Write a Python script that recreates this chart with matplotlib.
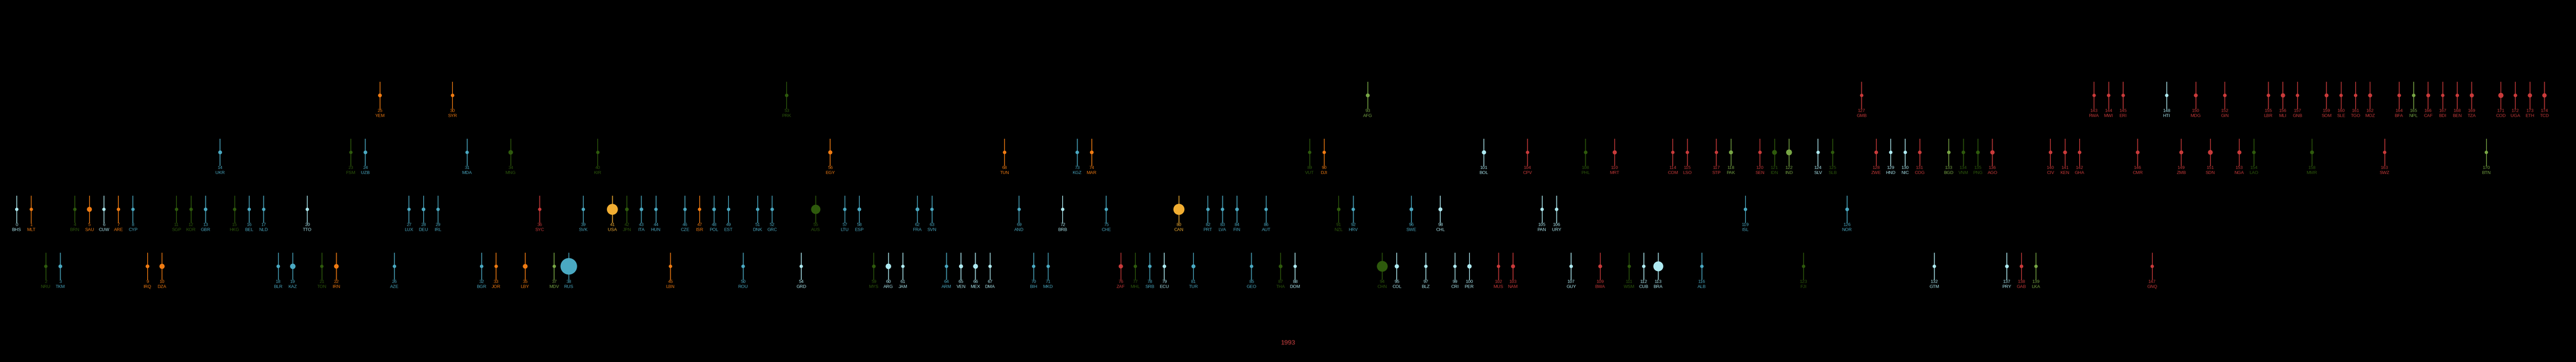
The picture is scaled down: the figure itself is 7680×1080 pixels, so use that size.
import matplotlib
matplotlib.use("Agg")
import matplotlib.pyplot as plt
import numpy as np

# ---- data (ordered by rank) ----
codes = [
    "BHS","MLT","NRU","TKM","BRN","SAU","CUW","ARE","CYP","IRQ",
    "DZA","SGP","KOR","GBR","UKR","HKG","BEL","NLD","BLR","KAZ",
    "TTO","TON","IRN","FSM","UZB","YEM","AZE","LUX","DEU","IRL",
    "SYR","MDA","BGR","JOR","MNG","LBY","SYC","MDV","RUS","SVK",
    "KIR","USA","JPN","ITA","HUN","LBN","CZE","ISR","POL","EST",
    "ROU","DNK","GRC","PRK","GRD","AUS","EGY","LTU","ESP","MYS",
    "ARG","JAM","FRA","SVN","ARM","VEN","MEX","DMA","TUN","AND",
    "BIH","MKD","BRB","KGZ","MAR","CHE","ZAF","MHL","SRB","ECU",
    "CAN","TUR","PRT","LVA","FIN","GEO","AUT","THA","DOM","VUT",
    "DJI","NZL","HRV","AFG","CHN","COL","SWE","BLZ","CHL","CRI",
    "PER","BOL","MUS","NAM","CPV","PAN","URY","GUY","PHL","BWA",
    "MRT","WSM","CUB","BRA","COM","LSO","ALB","STP","PAK","ISL",
    "SEN","IDN","IND","FJI","SLV","SLB","NOR","GMB","ZWE","HND",
    "NIC","COG","GTM","BGD","VNM","PNG","AGO","PRY","GAB","LKA",
    "CIV","KEN","GHA","RWA","MWI","ERI","CMR","GNQ","HTI","ZMB",
    "MDG","SDN","GIN","NGA","LAO","LBR","MLI","GNB","MMR","SOM",
    "SLE","TGO","MOZ","SWZ","BFA","NPL","CAF","BDI","BEN","TZA",
    "BTN","COD","UGA","ETH","TCD",
]

regions = [
    "LAC","MENA","EAP","ECA","EAP","MENA","LAC","MENA","ECA","MENA",
    "MENA","EAP","EAP","ECA","ECA","EAP","ECA","ECA","ECA","ECA",
    "LAC","EAP","MENA","EAP","ECA","MENA","ECA","ECA","ECA","ECA",
    "MENA","ECA","ECA","MENA","EAP","MENA","SSA","SAS","ECA","ECA",
    "EAP","NAC","EAP","ECA","ECA","MENA","ECA","MENA","ECA","ECA",
    "ECA","ECA","ECA","EAP","LAC","EAP","MENA","ECA","ECA","EAP",
    "LAC","LAC","ECA","ECA","ECA","LAC","LAC","LAC","MENA","ECA",
    "ECA","ECA","LAC","ECA","MENA","ECA","SSA","EAP","ECA","LAC",
    "NAC","ECA","ECA","ECA","ECA","ECA","ECA","EAP","LAC","EAP",
    "MENA","EAP","ECA","SAS","EAP","LAC","ECA","LAC","LAC","LAC",
    "LAC","LAC","SSA","SSA","SSA","LAC","LAC","LAC","EAP","SSA",
    "SSA","EAP","LAC","LAC","SSA","SSA","ECA","SSA","SAS","ECA",
    "SSA","EAP","SAS","EAP","LAC","EAP","ECA","SSA","SSA","LAC",
    "LAC","SSA","LAC","SAS","EAP","EAP","SSA","LAC","SSA","SAS",
    "SSA","SSA","SSA","SSA","SSA","SSA","SSA","SSA","LAC","SSA",
    "SSA","SSA","SSA","SSA","EAP","SSA","SSA","SSA","EAP","SSA",
    "SSA","SSA","SSA","SSA","SSA","SAS","SSA","SSA","SSA","SSA",
    "SAS","SSA","SSA","SSA","SSA",
]

income = [
    "H","H","UM","UM","H","H","H","H","H","UM",
    "UM","H","H","H","LM","H","H","H","UM","UM",
    "H","UM","UM","LM","LM","L","UM","H","H","H",
    "L","LM","UM","UM","LM","UM","H","UM","UM","H",
    "LM","H","H","H","H","UM","H","H","H","H",
    "UM","H","H","L","UM","H","LM","H","H","UM",
    "UM","UM","H","H","UM","UM","UM","UM","LM","H",
    "UM","UM","H","LM","LM","H","UM","UM","UM","UM",
    "H","UM","H","H","H","UM","H","UM","UM","LM",
    "LM","H","H","L","UM","UM","H","UM","H","UM",
    "UM","LM","UM","UM","LM","H","H","UM","LM","UM",
    "LM","UM","UM","UM","LM","LM","UM","LM","LM","H",
    "LM","LM","LM","UM","LM","LM","H","L","LM","LM",
    "LM","LM","UM","LM","LM","LM","LM","UM","UM","UM",
    "LM","LM","LM","L","L","L","LM","UM","L","LM",
    "L","LM","L","LM","LM","L","L","L","LM","L",
    "L","L","L","LM","L","L","L","L","L","L",
    "LM","L","L","L","L",
]

# land area, thousand km^2 (drives marker size)
area = [
    13.9, 0.3, 0.02, 488, 5.8, 2150, 0.44, 83.6, 9.3, 438,
    2382, 0.7, 100, 242, 604, 1.1, 30.5, 41.5, 208, 2725,
    5.1, 0.75, 1648, 0.7, 447, 528, 86.6, 2.6, 357, 70,
    185, 33.8, 111, 89, 1564, 1760, 0.46, 0.3, 17098, 49,
    0.8, 9834, 378, 301, 93, 10.4, 79, 22, 313, 45,
    238, 43, 132, 121, 0.34, 7692, 1002, 65, 506, 330,
    2780, 11, 552, 20, 29.7, 916, 1964, 0.75, 164, 0.47,
    51, 25.7, 0.43, 200, 447, 41, 1221, 0.18, 88, 256,
    9985, 784, 92, 64.6, 338, 69.7, 84, 513, 48.7, 12.2,
    23.2, 268, 56.6, 652, 9597, 1142, 450, 23, 756, 51,
    1285, 1099, 2, 824, 4, 75, 176, 215, 300, 582,
    1031, 2.8, 110, 8516, 1.9, 30, 28.7, 1, 881, 103,
    197, 1905, 3287, 18.3, 21, 28.9, 385, 11.3, 391, 112,
    130, 342, 109, 148, 331, 463, 1247, 407, 268, 65.6,
    322, 580, 239, 26, 118, 118, 475, 28, 27.8, 753,
    587, 1886, 246, 924, 237, 111, 1240, 36, 677, 638,
    72, 57, 801, 17, 274, 147, 623, 27.8, 115, 947,
    38, 2345, 241, 1104, 1284,
]

year_label = "1993"

# ---- styles ----
region_colors = {
    "ECA": "#4aa9c2",
    "LAC": "#aeeaf2",
    "MENA": "#f07b12",
    "EAP": "#2e5a0c",
    "SAS": "#78a645",
    "SSA": "#c93a3a",
    "NAC": "#f2ae32",
}
row_of_income = {"L": 0, "LM": 1, "H": 2, "UM": 3}

W, H, DPI = 7680, 1080, 100
fig = plt.figure(figsize=(W / DPI, H / DPI), dpi=DPI, facecolor="black")
ax = fig.add_axes([0, 0, 1, 1])
ax.set_facecolor("black")
ax.axis("off")

# scales: rank -> x, income row -> y (rows are 170 px apart)
px_per_rank = 43.31
x0_px = 50.0
ax.set_xlim(-x0_px / px_per_rank, (W - x0_px) / px_per_rank)
row_px = 170.0
y0_px = 284.6
ax.set_ylim((H - y0_px) / row_px, -y0_px / row_px)

plt.rcParams["font.family"] = ["Liberation Sans Narrow", "Liberation Sans", "DejaVu Sans"]

ranks = np.arange(len(codes))
rows = np.array([row_of_income[i] for i in income], dtype=float)
cols = [region_colors[r] for r in regions]
diam_px = 10 + 2.3 * np.array(area) / 1000.0
sizes = (diam_px * 72.0 / DPI) ** 2

ax.vlines(ranks, rows - 41 / row_px, rows + 40 / row_px, colors=cols,
          linewidth=1.5, zorder=1)
ax.scatter(ranks, rows, s=sizes, c=cols, edgecolors="none", zorder=2)

for r, row, code, c in zip(ranks, rows, codes, cols):
    ax.text(r, row + 46 / row_px, str(r), color=c, fontsize=9.5,
            ha="center", va="center", zorder=3)
    ax.text(r, row + 61 / row_px, code, color=c, fontsize=9.5,
            ha="center", va="center", zorder=3)

fig.text(3840 / W, 1 - 1023 / H, year_label, color="#c94040", fontsize=14,
         ha="center", va="center")

fig.savefig("out.png", dpi=DPI, facecolor="black")
